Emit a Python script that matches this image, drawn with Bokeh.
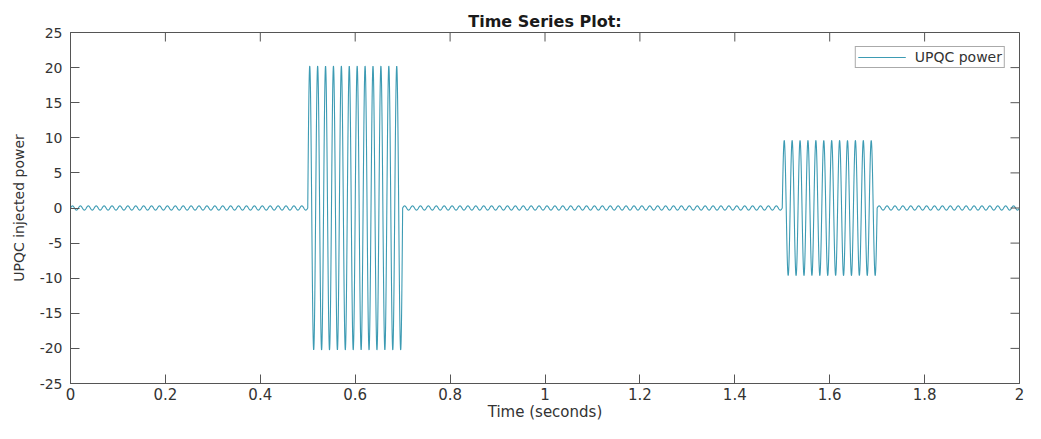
import numpy as np
from bokeh.plotting import figure
from bokeh.models import FixedTicker, Range1d
from bokeh.embed import file_html
from bokeh.resources import INLINE

# ---- data ----
seg_start = [0.0, 0.5, 0.7, 1.5, 1.7]      # s
seg_end = [0.5, 0.7, 1.5, 1.7, 2.0]        # s
seg_amp = [0.3, 20.2, 0.3, 9.6, 0.3]       # peak of the oscillation in each interval
freq_hz = 60.0
dt = 1e-4

x_ticks = [0, 0.2, 0.4, 0.6, 0.8, 1.0, 1.2, 1.4, 1.6, 1.8, 2.0]
x_tick_labels = ["0", "0.2", "0.4", "0.6", "0.8", "1", "1.2", "1.4", "1.6", "1.8", "2"]
y_ticks = [-25, -20, -15, -10, -5, 0, 5, 10, 15, 20, 25]
y_tick_labels = ["-25", "-20", "-15", "-10", "-5", "0", "5", "10", "15", "20", "25"]
x_min, x_max = 0.0, 2.0
y_min, y_max = -25, 25

series_label = "UPQC power"
title_text = "Time Series Plot:"
x_label = "Time (seconds)"
y_label = "UPQC injected power"

# ---- build the waveform ----
t = np.arange(x_min, x_max + dt / 2, dt)
amp = np.zeros_like(t)
for s, e, a in zip(seg_start, seg_end, seg_amp):
    amp[(t >= s) & (t <= e)] = a
y = amp * np.sin(2 * np.pi * freq_hz * t)

FONT = "DejaVu Sans"
LINE_C = "#555555"
TEXT_C = "#333333"
SIG_C = "#3d9bb3"
TICK_LEN = 9

p = figure(width=1025, height=423, x_range=Range1d(x_min, x_max), y_range=Range1d(y_min, y_max),
           output_backend="svg", toolbar_location=None,
           min_border_left=70, min_border_right=6, min_border_top=32, min_border_bottom=35)

p.title.text = title_text
p.title.align = "center"
p.title.text_font = FONT
p.title.text_font_size = "16px"
p.title.text_font_style = "bold"
p.title.text_color = "#1a1a1a"
p.title.standoff = 4

p.xgrid.visible = False
p.ygrid.visible = False
p.outline_line_color = LINE_C
p.background_fill_color = "white"
p.border_fill_color = "white"

p.line(t, y, line_color=SIG_C, line_width=1.1, legend_label=series_label)

# tick marks on the top and right edges of the box (MATLAB "box on" style)
p.ray(x=x_ticks, y=[y_max] * len(x_ticks), length=TICK_LEN, angle=-np.pi / 2,
      length_units="screen", line_color=LINE_C, line_width=1)
p.ray(x=[x_max] * len(y_ticks), y=y_ticks, length=TICK_LEN, angle=np.pi,
      length_units="screen", line_color=LINE_C, line_width=1)

xa = p.below[0]
xa.ticker = FixedTicker(ticks=x_ticks)
xa.major_label_overrides = {v: s for v, s in zip(x_ticks, x_tick_labels)}
xa.axis_label = x_label

ya = p.left[0]
ya.ticker = FixedTicker(ticks=y_ticks)
ya.major_label_overrides = {v: s for v, s in zip(y_ticks, y_tick_labels)}
ya.axis_label = y_label

for ax, fs in ((xa, "15px"), (ya, "14px")):
    ax.major_tick_in = TICK_LEN
    ax.major_tick_out = 0
    ax.minor_tick_in = 0
    ax.minor_tick_out = 0
    ax.axis_line_color = LINE_C
    ax.major_tick_line_color = LINE_C
    ax.major_label_text_font = FONT
    ax.major_label_text_font_size = fs
    ax.major_label_text_color = TEXT_C
    ax.axis_label_text_font = FONT
    ax.axis_label_text_font_style = "normal"
    ax.axis_label_text_color = TEXT_C

xa.major_label_standoff = 4
xa.axis_label_text_font_size = "15px"
xa.axis_label_standoff = 0
ya.major_label_standoff = 8
ya.axis_label_text_font_size = "14px"
ya.axis_label_standoff = 10

lg = p.legend[0]
lg.location = "top_right"
lg.margin = 14
lg.padding = 2
lg.spacing = 0
lg.glyph_width = 48
lg.glyph_height = 14
lg.label_standoff = 9
lg.label_text_font = FONT
lg.label_text_font_size = "14px"
lg.label_text_color = TEXT_C
lg.border_line_color = LINE_C
lg.border_line_width = 1
lg.background_fill_color = "white"
lg.background_fill_alpha = 1.0

open("out.html", "w").write(file_html(p, INLINE))
